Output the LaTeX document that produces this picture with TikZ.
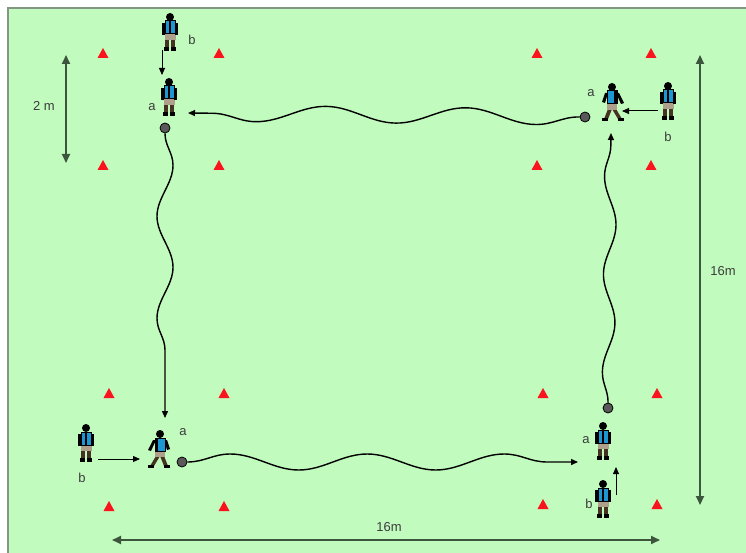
\documentclass[tikz,border=0pt]{standalone}
\usepackage{fontspec}
\setmainfont{Liberation Sans}
\usetikzlibrary{arrows.meta,decorations.pathmorphing}
\definecolor{field}{RGB}{193,251,189}
\definecolor{frame}{RGB}{130,150,130}
\definecolor{conered}{RGB}{250,20,30}
\definecolor{shirt}{RGB}{30,150,210}
\definecolor{shortsc}{RGB}{175,160,140}
\definecolor{legc}{RGB}{70,50,35}
\definecolor{dimc}{RGB}{60,85,60}
\definecolor{labelc}{RGB}{60,60,60}
\begin{document}
\begin{tikzpicture}[x=1pt,y=-1pt,
  lbl/.style={text=labelc,font=\fontsize{13}{13}\selectfont,inner sep=0},
  ball/.style={circle,draw=black,fill=black!65,line width=0.8pt,minimum size=10pt,inner sep=0},
  pass/.style={line width=1pt,-{Triangle[length=7pt,width=6pt]}},
  dribble/.style={line width=1.4pt,decorate,-{Triangle[length=7pt,width=6pt]}},
  dimline/.style={draw=dimc,line width=1.8pt,{Triangle[length=9pt,width=8pt]}-{Triangle[length=9pt,width=8pt]}},
  cone/.pic={\fill[conered] (-5.5,5) -- (5.5,5) -- (0,-5) -- cycle;},
  player/.pic={
    % legs and boots
    \fill[legc] (-5,7) rectangle (-1,17);
    \fill[legc] (1,7) rectangle (5,17);
    \fill[black] (-6,15) rectangle (-1,19);
    \fill[black] (1,15) rectangle (6,19);
    % shorts
    \fill[shortsc] (-5.5,2) rectangle (5.5,8);
    % arms
    \fill[black] (-8,-9) rectangle (-5,3);
    \fill[black] (5,-9) rectangle (8,3);
    % shirt
    \filldraw[fill=shirt,draw=black,line width=1pt] (-5,-11) rectangle (5,2);
    \fill[black] (-1,-11) rectangle (1,2);
    % head
    \fill[black] (0,-15) circle (4);
  },
  runner/.pic={
    % striding legs
    \fill[legc] (-4,7) -- (0,7) -- (-6,17) -- (-10,17) -- cycle;
    \fill[legc] (0,7) -- (4,7) -- (8,17) -- (4,17) -- cycle;
    \fill[black] (-12,16) rectangle (-6,19);
    \fill[black] (4,16) rectangle (10,19);
    % shorts
    \fill[shortsc] (-5,2) rectangle (5,8);
    % arms
    \fill[black] (-7,-9) -- (-4,-9) -- (-9,2) -- (-12,1) -- cycle;
    \fill[black] (4,-9) -- (7,-9) -- (10,0) -- (7,1) -- cycle;
    % shirt
    \filldraw[fill=shirt,draw=black,line width=1pt] (-5,-11) rectangle (5,2);
    \fill[black] (-5,-11) rectangle (-2,2);
    % head
    \fill[black] (0,-15) circle (4);
  }]
\useasboundingbox (0,0) rectangle (746,553);

% pitch
\fill[white] (0,0) rectangle (746,553);
\fill[field] (8,8) rectangle (746,553);
\draw[frame,line width=2pt] (8,553) -- (8,8) -- (746,8);

% cones
\foreach \cx/\cy in {103/53,219/53,103/165,219/165,
                     537/53,651/53,537/165,651/165,
                     109/393,224/393,109/506,224/506,
                     543/393,657/393,543/504,657/504}
  \pic at (\cx,\cy) {cone};

% players
\pic at (170,32) {player};
\pic at (169,97) {player};
\pic[xscale=-1] at (612,102) {runner};
\pic at (668,101) {player};
\pic at (86,443) {player};
\pic at (160,449) {runner};
\pic at (603,441) {player};
\pic at (603,499) {player};

% player labels
\node[lbl] (lb1) at (192,40) {b};
\node[lbl] (la1) at (152,107) {a};
\node[lbl] (la2) at (591,93) {a};
\node[lbl] (lb2) at (668,137) {b};
\node[lbl] (lb3) at (82,478) {b};
\node[lbl] (la3) at (183,432) {a};
\node[lbl] (la4) at (586,440) {a};
\node[lbl] (lb4) at (589,504) {b};

% balls
\node[ball] (ballTL) at (165,128) {};
\node[ball] (ballTR) at (585,117) {};
\node[ball] (ballBL) at (182,462) {};
\node[ball] (ballBR) at (608,408) {};

% ends of dribbles
\coordinate (tipT) at (188,113);
\coordinate (tipL) at (165,418);
\coordinate (tipR) at (611,133);
\coordinate (tipB) at (578,462);

% dribbles
\draw[dribble,decoration={snake,amplitude=8pt,segment length=140pt,post length=24pt}] (ballTR) -- (tipT);
\draw[dribble,decoration={snake,amplitude=8pt,segment length=102pt,post length=18pt}] (ballTL) -- (tipL);
\draw[dribble,decoration={snake,amplitude=6pt,segment length=98pt,post length=12pt}] (ballBR) -- (tipR);
\draw[dribble,decoration={snake,amplitude=8pt,segment length=137pt,post length=30pt}] (ballBL) -- (tipB);

% passes b -> a
\coordinate (p1s) at (162,50);  \coordinate (p1e) at (162,75);
\coordinate (p2s) at (658,111); \coordinate (p2e) at (622,111);
\coordinate (p3s) at (98,459);  \coordinate (p3e) at (140,459);
\coordinate (p4s) at (616,495); \coordinate (p4e) at (616,467);
\draw[pass] (p1s) -- (p1e);
\draw[pass] (p2s) -- (p2e);
\draw[pass] (p3s) -- (p3e);
\draw[pass] (p4s) -- (p4e);

% dimensions
\coordinate (d1a) at (66,55);   \coordinate (d1b) at (66,163);
\coordinate (d2a) at (700,55);  \coordinate (d2b) at (700,505);
\coordinate (d3a) at (112,540); \coordinate (d3b) at (660,540);
\draw[dimline] (d1a) -- (d1b);
\draw[dimline] (d2a) -- (d2b);
\draw[dimline] (d3a) -- (d3b);
\node[lbl] (dm1) at (44,106) {2 m};
\node[lbl] (dm2) at (723,271) {16m};
\node[lbl] (dm3) at (389,527) {16m};
\end{tikzpicture}
\end{document}
